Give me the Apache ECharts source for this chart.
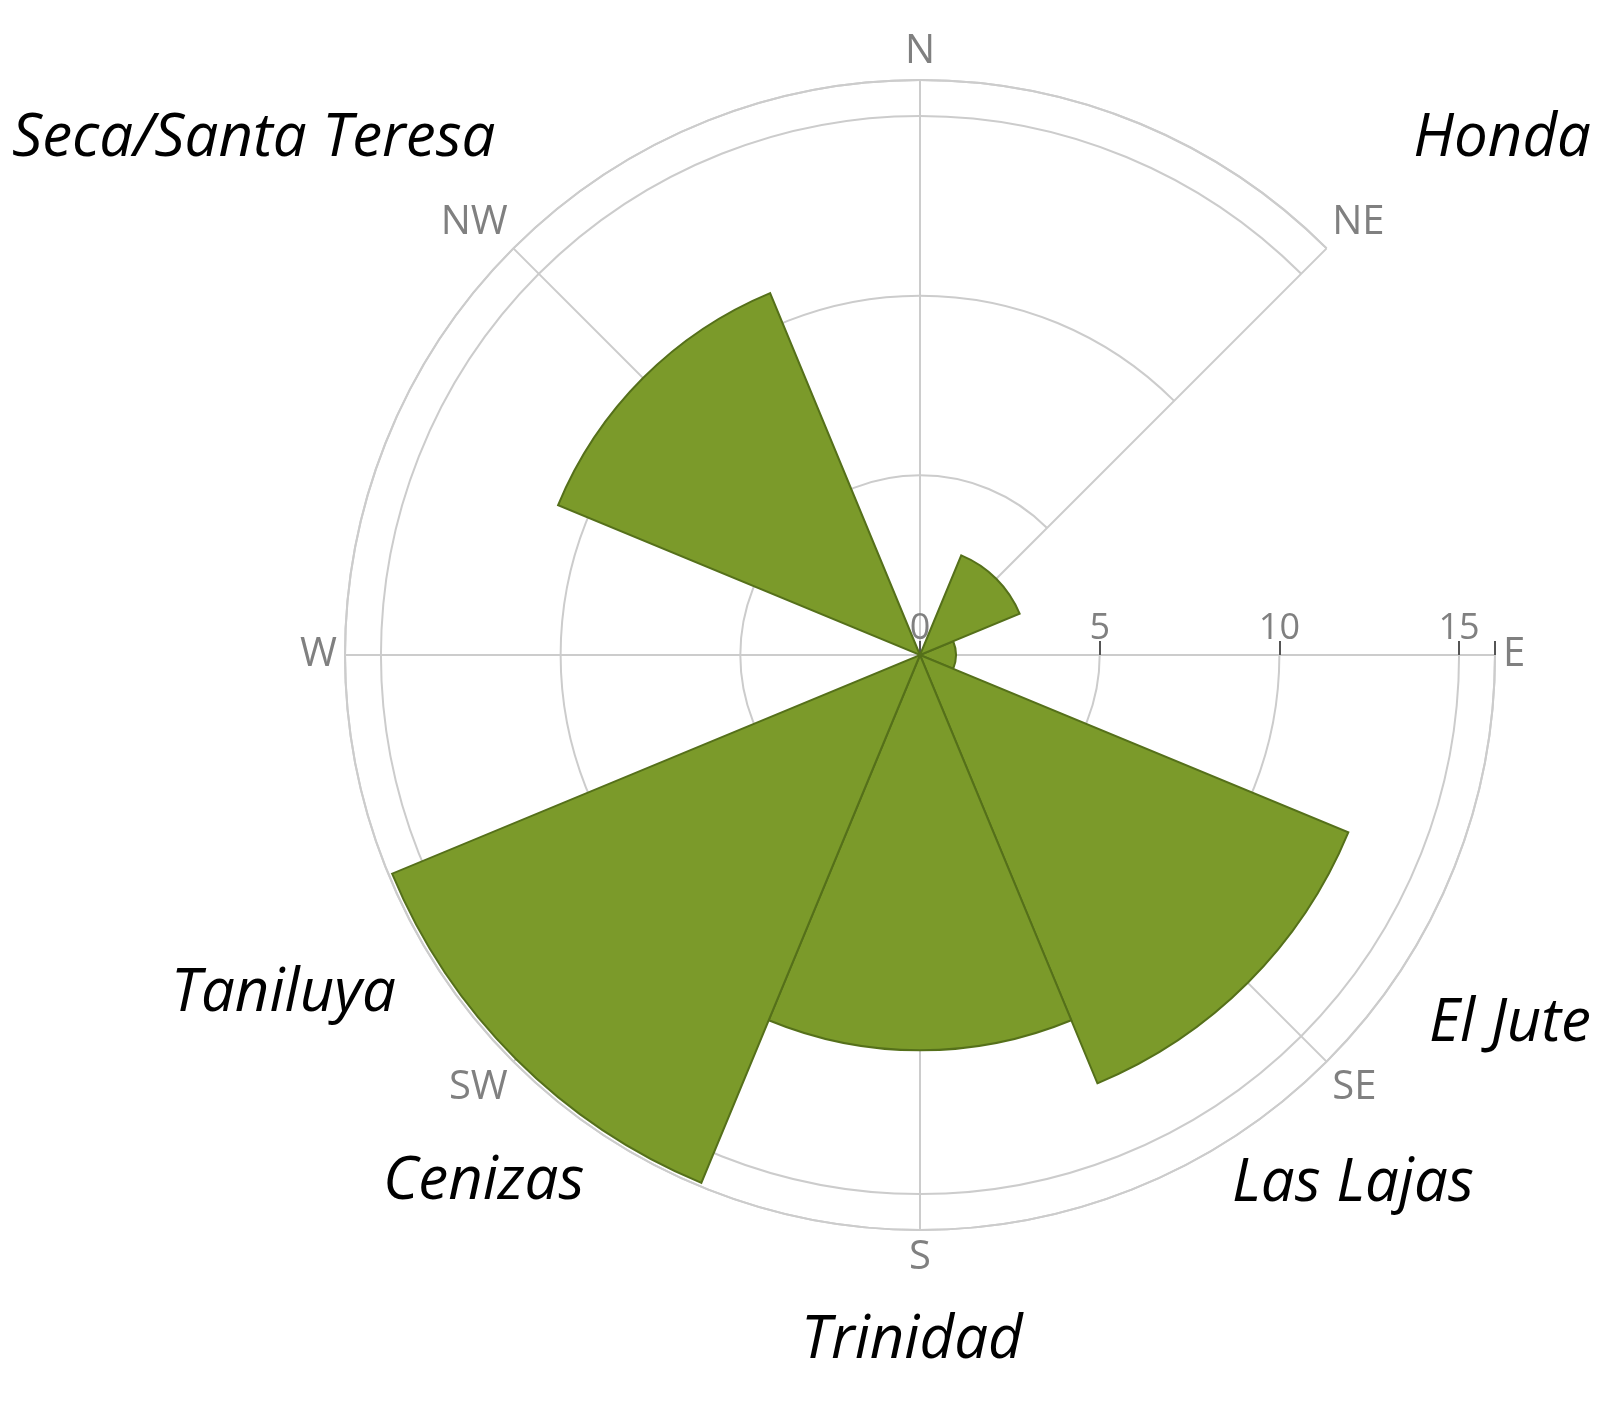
<!DOCTYPE html>
<html lang="en">
<head>
    <meta charset="UTF-8">
    <title>Rose</title>
    <script src="https://cdn.jsdelivr.net/npm/echarts@6.0.0/dist/echarts.min.js"></script>
</head>
<body style="margin:0">
    <div id="main" style="width:1617px;height:1404px;"></div>
    <script type="text/javascript">
        // directions clockwise from east
        const directions = ['E', 'SE', 'S', 'SW', 'W', 'NW', 'N', 'NE'];
        const counts = [1, 12.9, 11, 15.9, 0, 10.9, 0, 3];
        const radiusTicks = [0, 5, 10, 15];
        const stations = [
            { name: 'Seca/Santa Teresa', x: 12, y: 145, align: 'left' },
            { name: 'Honda', x: 1591, y: 145, align: 'right' },
            { name: 'Taniluya', x: 171, y: 1000, align: 'left' },
            { name: 'El Jute', x: 1591, y: 1030, align: 'right' },
            { name: 'Cenizas', x: 383, y: 1188, align: 'left' },
            { name: 'Las Lajas', x: 1232, y: 1190, align: 'left' },
            { name: 'Trinidad', x: 921, y: 1347, align: 'center' }
        ];

        let myChart = echarts.init(document.getElementById('main'));
        const grid = '#cccccc';

        myChart.setOption({
            backgroundColor: '#fff',
            polar: { center: [920, 655], radius: 575 },
            angleAxis: {
                type: 'category',
                data: directions,
                startAngle: 0,
                clockwise: true,
                boundaryGap: false,
                axisLine: { lineStyle: { color: grid, width: 2 } },
                axisTick: { show: false },
                axisLabel: { color: '#808080', fontSize: 40, fontFamily: 'Open Sans', margin: 8 },
                splitLine: { show: true, lineStyle: { color: grid, width: 2 } },
                z: 1
            },
            radiusAxis: {
                min: 0,
                max: 16,
                interval: 5,
                axisLine: { show: true, lineStyle: { color: grid, width: 2 } },
                axisTick: { show: true, length: 14, lineStyle: { color: '#555', width: 2 } },
                axisLabel: {
                    color: '#808080', fontSize: 36, fontFamily: 'Open Sans',
                    formatter: v => radiusTicks.includes(v) ? String(v) : ''
                },
                splitLine: { show: true, lineStyle: { color: grid, width: 2 } },
                z: 1
            },
            series: [{
                type: 'bar',
                coordinateSystem: 'polar',
                data: counts,
                barCategoryGap: '0%',
                itemStyle: { color: '#7b9a2a', borderColor: '#55701a', borderWidth: 2 },
                z: 2
            }],
            graphic: stations.map(s => ({
                type: 'text',
                left: s.align === 'right' ? null : (s.align === 'center' ? s.x - 120 : s.x),
                right: s.align === 'right' ? 1617 - s.x : null,
                top: s.y - 36,
                style: {
                    text: s.name,
                    fontSize: 60,
                    fontStyle: 'italic',
                    fontFamily: 'Open Sans',
                    fill: '#000'
                }
            }))
        });
    </script>
</body>
</html>
